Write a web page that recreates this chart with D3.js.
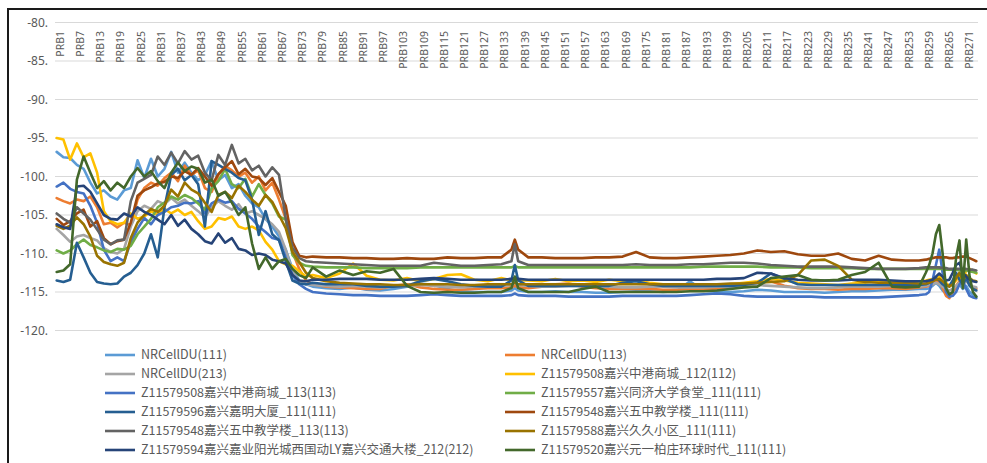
<!DOCTYPE html>
<html>
<head>
<meta charset="utf-8">
<script src="https://cdn.jsdelivr.net/npm/d3@7"></script>
<style>
  body{margin:0;background:#fff;}
  text{font-family:"Noto Sans","Noto Sans CJK SC",sans-serif;}
</style>
</head>
<body>
<svg class="chart"></svg>
<script>

var prbIndex = [0,2,4,6,8,10,12,14,16,18,20,22,24,26,28,30,32,34,36,38,40,42,44,46,48,50,52,54,56,58,60,62,64,66,68,70,72,74,
  76,80,84,88,92,96,100,104,108,112,116,120,124,128,132,
  135,136,137,
  140,144,148,152,156,160,164,168,172,176,180,184,188,192,196,200,204,208,212,216,220,224,228,232,236,240,244,248,252,256,
  258,259,260,261,262,263,264,265,266,267,268,269,270,271,272,273];

var yTicks = [-80,-85,-90,-95,-100,-105,-110,-115,-120];

var seriesNames = ['NRCellDU(111)','NRCellDU(113)','NRCellDU(213)',
  'Z11579508嘉兴中港商城_112(112)','Z11579508嘉兴中港商城_113(113)',
  'Z11579557嘉兴同济大学食堂_111(111)','Z11579596嘉兴嘉明大厦_111(111)',
  'Z11579548嘉兴五中教学楼_111(111)','Z11579548嘉兴五中教学楼_113(113)',
  'Z11579588嘉兴久久小区_111(111)','Z11579594嘉兴嘉业阳光城西国动LY嘉兴交通大楼_212(212)',
  'Z11579520嘉兴元一柏庄环球时代_111(111)'];

var seriesColors = ['#5B9BD5','#ED7D31','#A5A5A5','#FFC000','#4472C4','#70AD47',
                    '#255E91','#9E480E','#636363','#997300','#264478','#43682B'];

var s1 = [-96.8,-97.5,-97.6,-98.5,-99,-100.8,-102.2,-101.8,-102.6,-103,-101.8,-101.5,-97.9,-100.2,-97.7,-100,-99,-96.8,-99.5,-98.2,-99.5,-100.5,-99.8,-98,-100.5,-99.8,-101.5,-101,-102.5,-103.5,-104,-105.5,-106.5,-107.8,-109.5,-112,-113.5,-114,
  -114.3,-114.5,-114.6,-114.4,-114.7,-114.8,-114.6,-114.3,-113.9,-114.1,-114.6,-114.9,-115,-115,-115,
  -114.8,-114.5,-114.8,
  -115,-115,-114.9,-115,-115,-115.1,-115.1,-115,-114.9,-114.9,-115,-114.9,-113.6,-114.8,-115,-115,-114.9,-114.7,-114.8,-115,-115,-115,-115.1,-115,-114.9,-114.9,-114.8,-114.7,-114.7,-114.6,
  -114.6,-114.5,-114.2,-113.8,-114.2,-114.8,-115.2,-115.3,-115,-114.4,-114,-114.6,-114.2,-115,-115.4,-115.6];

var s2 = [-102.8,-103.2,-103.5,-103,-103.2,-102.6,-104,-106.2,-106,-106.6,-106,-106.3,-103,-101.5,-100.8,-101.2,-100.2,-99.5,-100.6,-98.6,-99.8,-99.2,-101.5,-102,-99.8,-98.6,-99.2,-100,-99.5,-100.8,-100,-101.8,-100.8,-103,-105.5,-109.8,-112,-113.5,
  -114,-114.3,-114.4,-114.5,-114.6,-114.6,-114.2,-114,-114.4,-114.6,-114.7,-114.7,-114.6,-114.5,-114.5,
  -114.4,-114.2,-114.4,
  -114.5,-114.3,-114,-113.9,-114.3,-114.5,-114.6,-114.6,-114.6,-114.6,-114.7,-114.7,-114.6,-114.6,-114.6,-114.5,-114.3,-113.8,-113.6,-114.2,-114.5,-114.6,-114.6,-114.7,-114.6,-114.6,-114.5,-114.5,-114.6,-114.4,
  -114.3,-114.2,-114,-113.5,-113.8,-114.5,-115.5,-115.8,-115,-114.2,-113.6,-113,-113.2,-114,-114.4,-114.6];

var s3 = [-106.8,-107.6,-108.5,-107.8,-107.6,-108,-108.3,-109.3,-109.8,-110,-109.4,-106.5,-104.5,-103.8,-104.2,-103.2,-103.6,-102.8,-103.5,-103,-103.8,-104.5,-105.3,-104,-103.2,-103.8,-104.3,-103.6,-104.8,-104.5,-105,-105.5,-106.2,-107.2,-109.5,-112.4,-113.6,-114,
  -114.1,-114.2,-114.3,-114.2,-114.3,-114.4,-114.3,-114.2,-114.1,-114.2,-114.3,-114.4,-114.3,-114.3,-114.2,
  -114.1,-113.8,-114.1,
  -114.2,-114.3,-114.3,-114.2,-114.2,-114.3,-114.3,-114.4,-114.4,-114.3,-114.3,-114.4,-114.4,-114.4,-114.3,-114.3,-114.2,-114.1,-114.2,-114.3,-114.4,-114.5,-114.5,-114.4,-114.3,-114.3,-114.3,-114.2,-114.2,-114.3,
  -114.2,-114.1,-114,-113.8,-114,-114.3,-114.6,-114.8,-114.6,-114.2,-113.8,-114,-113.6,-114,-114.3,-114.4];

var s4 = [-95,-95.2,-97.8,-95.7,-97.5,-97,-99.5,-104.5,-105.8,-106.2,-106,-104.8,-105.5,-105.2,-104.5,-105,-104.2,-104.8,-104.3,-105,-104.6,-105.8,-106.8,-106.5,-105.4,-105.6,-105.2,-106.5,-106.8,-106.5,-107,-108.5,-109.5,-111,-111.4,-111.6,-112.3,-113,
  -112.8,-113.2,-112.6,-111.3,-112.9,-113.4,-113.5,-113.2,-113.6,-113.3,-112.8,-112.7,-113.4,-113.6,-113.2,
  -113.5,-113.3,-113.5,
  -113.5,-113.6,-113.3,-113.6,-113.5,-113.7,-113.4,-113.6,-113.5,-113.8,-114,-114,-114,-114.1,-114,-114,-113.8,-113.6,-113.3,-113.5,-113.8,-113.9,-114,-114.1,-113.9,-113.8,-113.5,-113.7,-113.8,-113.6,
  -113.5,-113.4,-113.3,-113.1,-113,-113.3,-113.8,-114.2,-114,-113.5,-112.8,-113.4,-112.2,-112,-112.3,-112.6];

var s5 = [-101.3,-100.8,-101.6,-102,-102.2,-103.8,-106,-109.5,-111,-110.5,-111,-108.5,-106.8,-105.4,-106.2,-105,-104.6,-104,-103.8,-103.4,-103.5,-103.2,-104.8,-103.5,-103,-103.4,-103.2,-104.2,-104.8,-105.5,-106.5,-107.2,-108,-108.2,-110.5,-112.8,-114,-114.6,
  -115,-115.2,-115.3,-115.4,-115.4,-115.5,-115.5,-115.5,-115.4,-115.3,-115.4,-115.5,-115.5,-115.5,-115.5,
  -115.4,-115.2,-115.4,
  -115.5,-115.5,-115.5,-115.6,-115.6,-115.6,-115.6,-115.5,-115.5,-115.5,-115.5,-115.5,-115.4,-115.3,-115.2,-115.3,-115.5,-115.6,-115.6,-115.6,-115.6,-115.6,-115.7,-115.7,-115.7,-115.7,-115.7,-115.6,-115.5,-115.4,
  -115.3,-115,-113.5,-111.5,-109.5,-112.5,-115,-115.6,-115.5,-115,-114,-113.5,-114.6,-115.5,-115.7,-115.8];

var s6 = [-109.6,-110,-109.6,-108.8,-108.2,-108.9,-109.2,-109.6,-109.8,-109.4,-109.5,-109,-107.5,-106.5,-105.5,-104,-103.4,-102.6,-103,-102.4,-102.8,-103.5,-104.3,-101.5,-100.6,-99,-101,-101.5,-100.3,-102.6,-101,-102.4,-103.5,-105.2,-105.6,-110.2,-111.2,-111.6,
  -111.7,-111.8,-111.8,-111.8,-111.9,-111.9,-111.9,-111.9,-111.8,-111.8,-111.8,-111.8,-111.8,-111.8,-111.8,
  -111.8,-111.6,-111.8,
  -111.8,-111.8,-111.8,-111.8,-111.8,-111.8,-111.8,-111.8,-111.8,-111.8,-111.8,-111.8,-111.8,-111.7,-111.7,-111.7,-111.7,-111.7,-111.8,-111.8,-111.8,-111.9,-111.9,-111.9,-111.9,-112,-112,-112,-112,-112,
  -112,-112,-112,-112,-112,-112,-112.1,-112.1,-112.1,-112.1,-112.2,-112.2,-112.2,-112.3,-112.4,-112.5];

var s7 = [-113.5,-113.7,-113.4,-108.6,-110.5,-112.5,-113.7,-113.9,-114,-113.9,-113,-112.5,-111.5,-110,-107.5,-110.5,-104,-99.8,-99,-100.5,-99.8,-101,-106.5,-98,-98.5,-99,-99.5,-100.2,-100.5,-103,-107.6,-104.5,-107.5,-108.3,-111,-113.5,-113.9,-114,
  -113.8,-114,-114,-114,-114.2,-114.3,-114.3,-114.2,-113.6,-113.3,-113.6,-114,-114.2,-114.3,-114.3,
  -113.5,-111.5,-113.5,
  -114.2,-114.2,-114.2,-114.2,-114.2,-114.2,-114.2,-113.8,-113.6,-114,-114.2,-114.2,-114.2,-114.2,-114.2,-114.2,-114.1,-113.8,-112.6,-113.3,-114,-114.1,-114.1,-114.1,-114.1,-114.1,-114.1,-114.1,-114.1,-114.1,
  -114,-113.8,-113.6,-113.2,-113.5,-114,-114.3,-114.2,-113.5,-112.5,-113.4,-114,-113.2,-114.2,-114.6,-114.8];

var s8 = [-105.5,-106.3,-105.8,-104.8,-104.3,-106.5,-105.8,-108,-108.8,-108.4,-108.2,-106,-102.5,-101.8,-101.4,-100.9,-100.7,-100,-100.2,-99.3,-99.8,-98.9,-100,-101.2,-99.7,-98.8,-98,-99.7,-99,-100,-100.2,-101.1,-100.2,-102,-103.8,-108.5,-110.3,-110.5,
  -110.4,-110.5,-110.5,-110.6,-110.6,-110.7,-110.7,-110.6,-110.7,-110.7,-110.5,-110.6,-110.6,-110.5,-110.5,
  -109.5,-108.2,-109.5,
  -110.5,-110.5,-110.6,-110.6,-110.6,-110.5,-110.5,-110.4,-109.8,-110.5,-110.6,-110.6,-110.5,-110.4,-110.3,-110.2,-110,-109.6,-109.8,-109.7,-110.1,-110.3,-110.3,-110,-110.7,-110.9,-110.3,-110.8,-110.9,-110.9,
  -110.8,-110.7,-110.6,-110.5,-110.5,-110.5,-110.5,-110.6,-110.6,-110.5,-110.5,-110.4,-110.4,-110.6,-110.8,-111];

var s9 = [-104.8,-105.5,-106,-104,-104.8,-105.6,-106.9,-108.2,-108.8,-108.3,-108.2,-103.2,-100.8,-100.3,-99.8,-97.4,-98.5,-96.9,-98.3,-96.7,-97.8,-97.3,-99.5,-100.5,-97.2,-98.5,-95.9,-98.3,-97.7,-99.2,-98.6,-100,-98.8,-99.8,-105.5,-109.2,-110.6,-111,
  -111.1,-111.2,-111.3,-111.4,-111.5,-111.6,-111.6,-111.6,-111.6,-111.2,-111.4,-111.6,-111.6,-111.5,-111.4,
  -111,-108.8,-111,
  -111.5,-111.5,-111.5,-111.5,-111.5,-111.5,-111.5,-111.5,-111.4,-111.5,-111.5,-111.5,-111.4,-111.4,-111.3,-111.2,-111.2,-111.3,-111.5,-111.6,-111.7,-111.7,-111.7,-111.7,-111.8,-111.9,-112,-112,-112,-111.9,
  -111.8,-111.8,-111.8,-111.8,-111.8,-111.9,-111.9,-112,-112,-112,-112,-112,-112,-112.1,-112.1,-112.2];

var s10 = [-106.4,-106.8,-106.4,-105.3,-106.2,-107.8,-110.3,-111.1,-111.4,-111.6,-111.2,-108,-106,-105,-104.2,-104.6,-103.8,-101.7,-102.6,-100.8,-101.7,-102.2,-103.4,-104.6,-102.4,-102,-102.8,-101.2,-102,-103,-103.8,-102.4,-103.3,-105,-106.7,-109.8,-111.1,-112.5,
  -113.2,-113.6,-113.8,-113.9,-114,-114,-114.1,-114.1,-114,-114,-114,-114.1,-114.1,-114,-114,
  -114,-113.8,-114,
  -114,-114,-114,-114,-114,-114,-114,-114,-114,-114,-114,-114,-114,-114,-114,-113.9,-113.9,-113.8,-113.7,-113.6,-112.8,-110.9,-110.8,-111.6,-113.4,-113.7,-113.8,-113.8,-113.8,-113.9,
  -113.9,-113.8,-113.6,-113.4,-113.3,-113.6,-114,-114.3,-114,-113.2,-112.5,-113.5,-112.8,-113.2,-113.5,-113.6];

var s11 = [-106.2,-106.6,-106.8,-101.3,-101.2,-102,-103.5,-105,-105.5,-105.6,-104.8,-105.2,-104,-104.6,-105,-105.6,-106.2,-105,-106.4,-105.6,-106.8,-107.5,-108.4,-108.7,-107.4,-108.6,-108,-109.4,-109.6,-110.2,-110,-110.2,-110.8,-111,-111.3,-112.8,-113.5,-113.6,
  -113.4,-113.4,-113.3,-113.3,-113.3,-113.4,-113.4,-113.4,-113.3,-113.2,-113.3,-113.4,-113.4,-113.4,-113.4,
  -113.3,-113.2,-113.3,
  -113.4,-113.4,-113.4,-113.4,-113.4,-113.4,-113.4,-113.4,-113.4,-113.4,-113.4,-113.4,-113.4,-113.4,-113.3,-113.3,-113.2,-112.5,-112.6,-113.2,-113.4,-113.5,-113.5,-113.5,-113.4,-113.4,-113.4,-113.5,-113.6,-113.6,
  -113.6,-113.5,-113.4,-113,-112.6,-113,-113.5,-113.4,-112.5,-111.5,-111.2,-112.5,-113,-113.4,-113.6,-113.7];

var s12 = [-112.4,-112.2,-111.4,-100.4,-97.4,-99.5,-101.5,-100.6,-101.8,-100.8,-101.5,-100,-98.9,-100,-99.3,-100.6,-101.5,-99.5,-98.2,-99.3,-98.7,-99,-100.8,-100.4,-102.5,-102,-103.4,-105,-104,-108.7,-112,-110.5,-112,-111,-110.7,-112,-112.8,-113.2,
  -111.8,-113,-112.2,-112.8,-112.3,-112.5,-112,-114.2,-115,-115.1,-115,-115.1,-115.1,-115,-115,
  -114.5,-113,-114.5,
  -115,-115,-115,-115,-114.6,-114.3,-115,-115,-115,-115,-115,-115,-114.9,-114.9,-114.8,-114.6,-114.4,-114.3,-113.2,-113,-112.8,-113.4,-113.5,-113.4,-112.8,-112.4,-111.2,-114.3,-114.4,-114.3,
  -112.5,-111.5,-110,-107.5,-106.3,-110,-114.5,-115.3,-115,-110.5,-108.3,-114.5,-108.2,-113,-115,-115.6];

var seriesValues = [s1,s2,s3,s4,s5,s6,s7,s8,s9,s10,s11,s12];

// categories PRB0..PRB273, a label every 6th starting at PRB1
var categories = d3.range(0,274).map(function(i){ return 'PRB'+i; });
var tickLabels = categories.filter(function(d,i){ return i%6===1; });

var svgwidth = 987;
var svgheight = 463;

var margins = {
  top:22.5,
  bottom:132.5,
  left:55,
  right:9
};

var svg = d3.select('.chart').attr('width',svgwidth).attr('height',svgheight);

var xscale = d3.scaleBand().domain(categories).range([margins.left,svgwidth-margins.right]);
var yscale = d3.scaleLinear().domain([-120,-80]).range([svgheight-margins.bottom,margins.top]);
var half = xscale.bandwidth()/2;

// frame
svg.append('path')
   .attr('d','M8,463V9H987')
   .attr('fill','none')
   .attr('stroke','#1a1a1a')
   .attr('stroke-width',2);

// gridlines
svg.append('g').selectAll('line').data(yTicks).enter().append('line')
   .attr('x1',margins.left)
   .attr('x2',svgwidth-margins.right)
   .attr('y1',function(d){ return yscale(d); })
   .attr('y2',function(d){ return yscale(d); })
   .attr('stroke','#d9d9d9')
   .attr('stroke-width',1);

// y labels
svg.append('g').selectAll('text').data(yTicks).enter().append('text')
   .attr('x',48)
   .attr('y',function(d){ return yscale(d); })
   .attr('dy','0.35em')
   .attr('text-anchor','end')
   .style('font-size','12px')
   .attr('fill','#595959')
   .text(function(d){ return d+'.'; });

// x labels, rotated, along the top
svg.append('g').selectAll('text').data(tickLabels).enter().append('text')
   .attr('transform',function(d){
     return 'translate('+(xscale(d)+half)+',31) rotate(-90)';
   })
   .attr('dy','0.35em')
   .attr('text-anchor','end')
   .style('font-size','10.5px')
   .attr('fill','#595959')
   .text(function(d){ return d; });

var linegen = d3.line()
   .x(function(d,i){ return xscale(categories[prbIndex[i]])+half; })
   .y(function(d){ return yscale(d); });

svg.append('g').selectAll('path').data(seriesValues).enter().append('path')
   .attr('d',linegen)
   .attr('fill','none')
   .attr('stroke',function(d,i){ return seriesColors[i]; })
   .attr('stroke-width',2.6)
   .attr('stroke-linejoin','round')
   .attr('stroke-linecap','round');

// legend, two columns
var legendX = [105,505];
var legend = svg.append('g').selectAll('g').data(seriesNames).enter().append('g')
   .attr('transform',function(d,i){
     return 'translate('+legendX[i%2]+','+(355+Math.floor(i/2)*19)+')';
   });

legend.append('line')
   .attr('x1',0).attr('x2',30)
   .attr('y1',0).attr('y2',0)
   .attr('stroke',function(d,i){ return seriesColors[i]; })
   .attr('stroke-width',2.6);

legend.append('text')
   .attr('x',36)
   .attr('y',0)
   .attr('dy','0.35em')
   .style('font-size','12.5px')
   .style('font-family','"Noto Sans CJK SC","Noto Sans",sans-serif')
   .attr('fill','#595959')
   .text(function(d){ return d; });

</script>
</body>
</html>
